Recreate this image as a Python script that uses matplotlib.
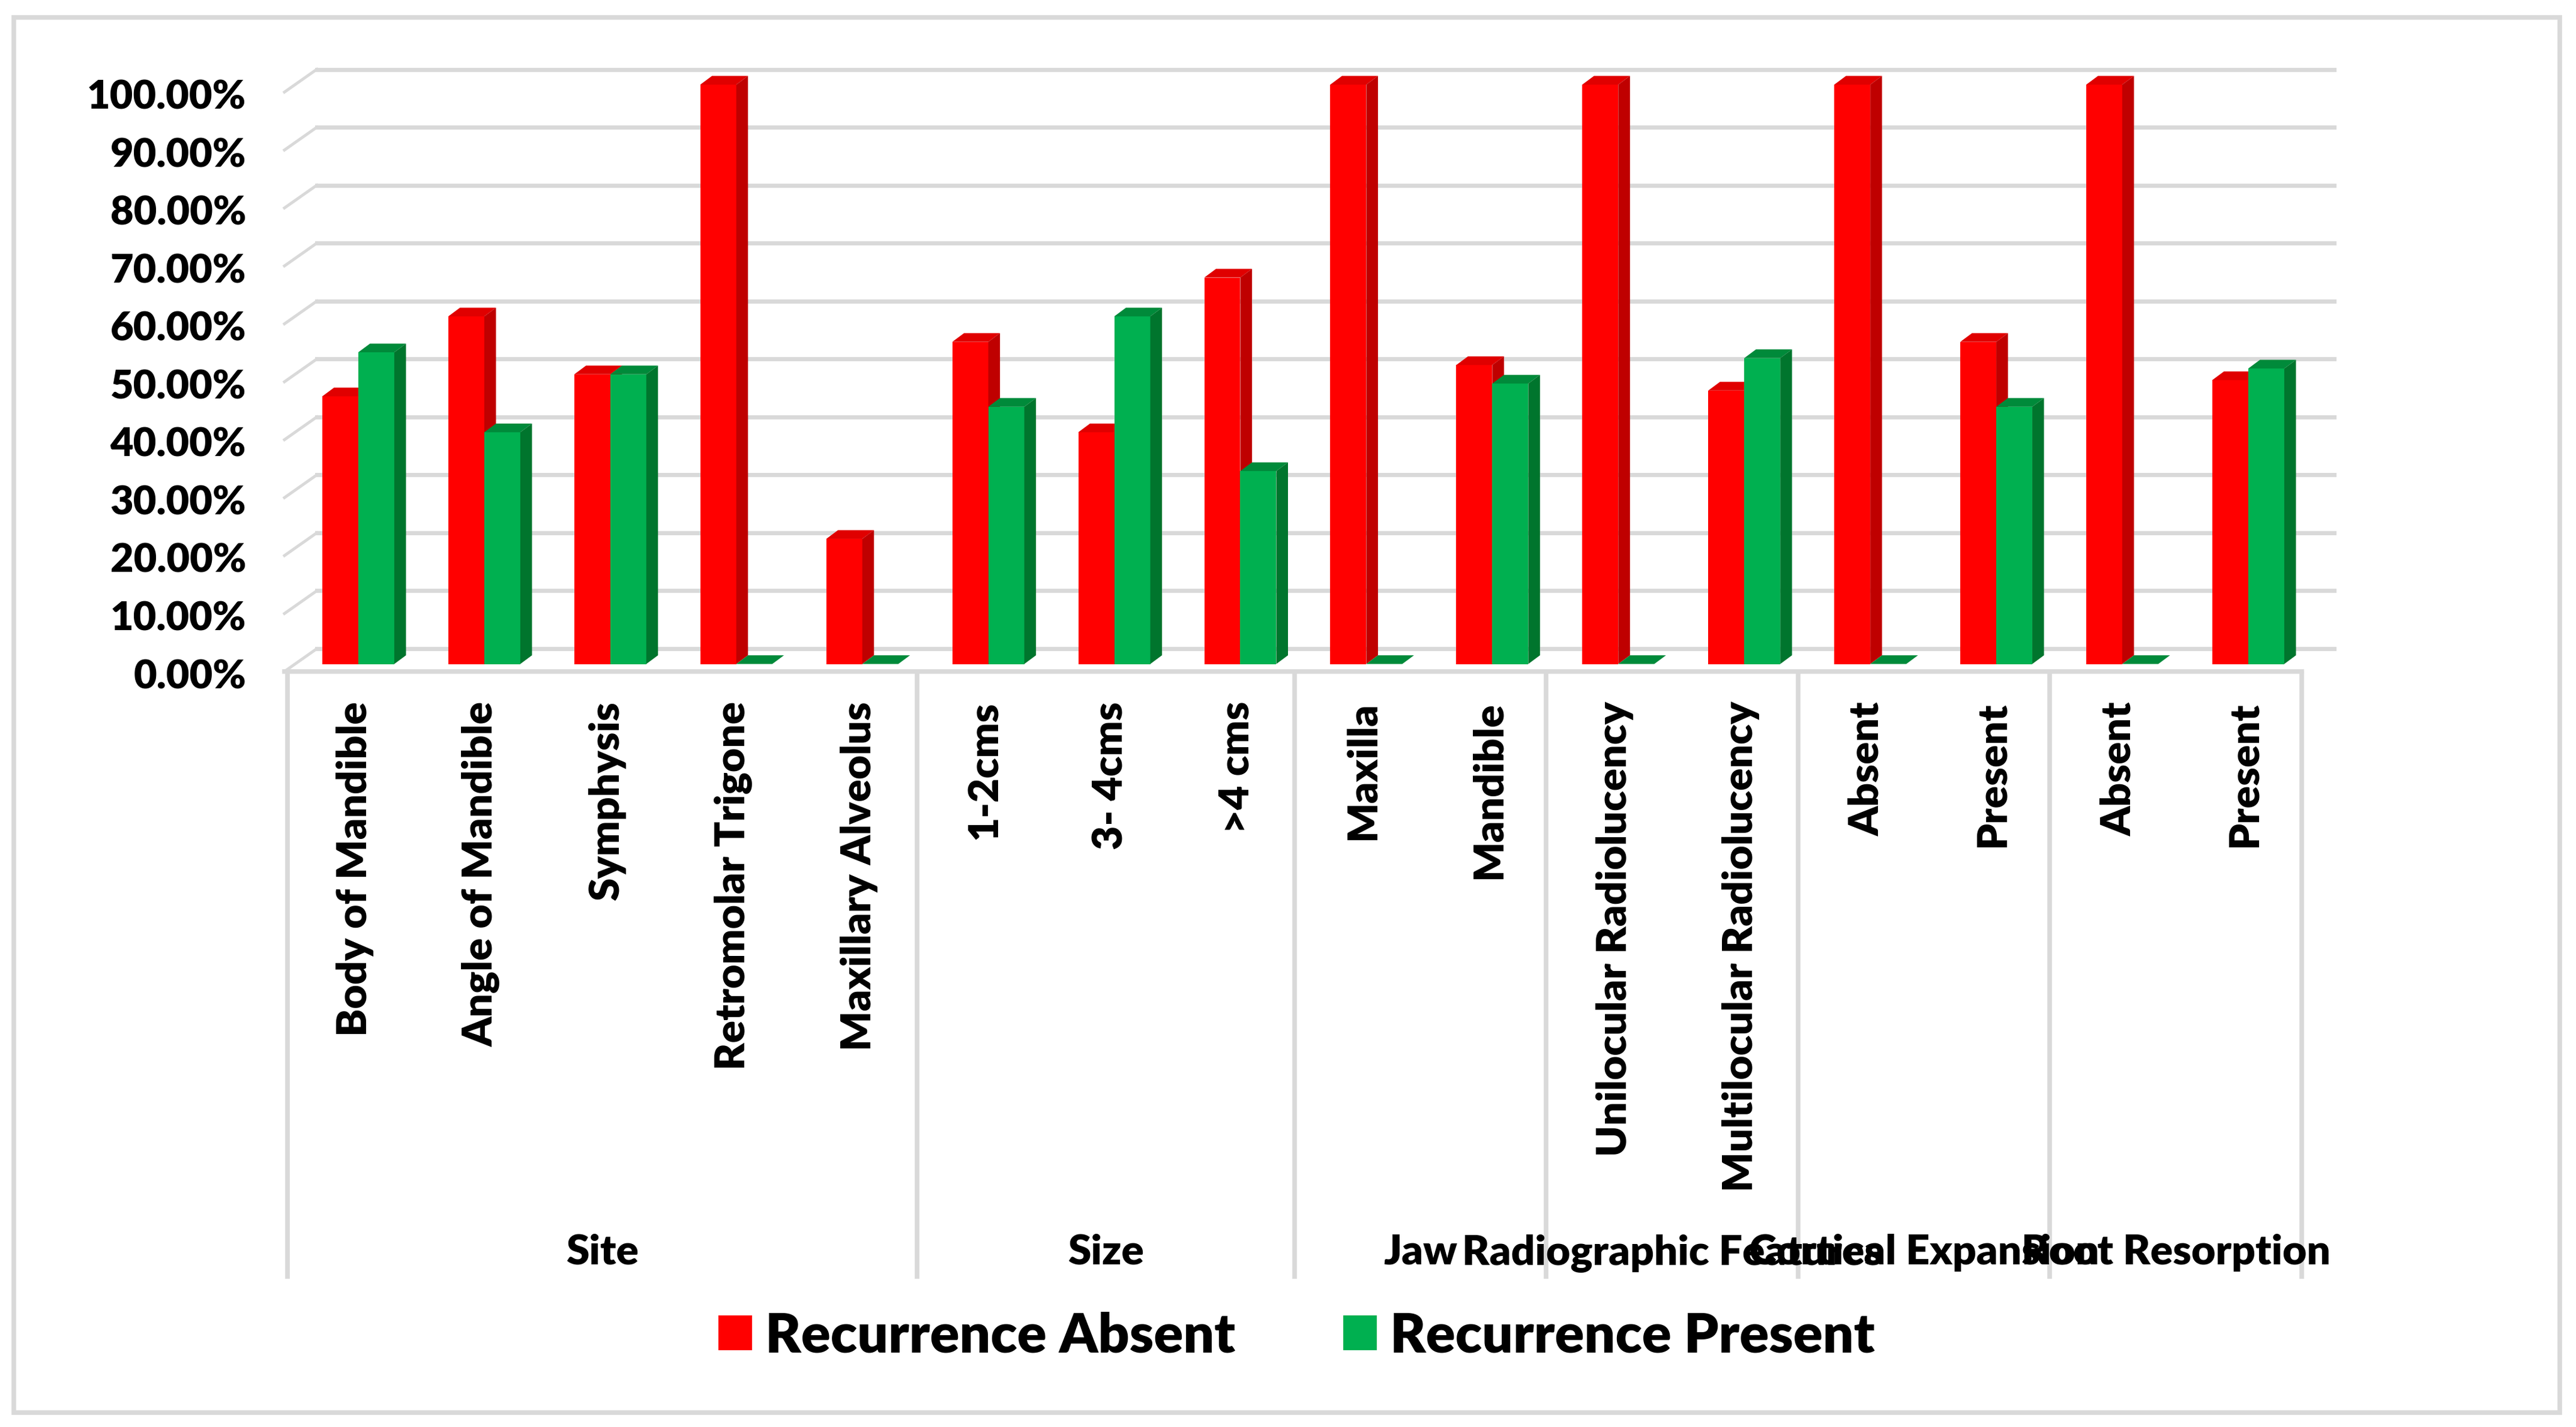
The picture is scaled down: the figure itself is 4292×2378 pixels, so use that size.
import matplotlib
matplotlib.use("Agg")
import matplotlib.pyplot as plt
from matplotlib.patches import Rectangle
from matplotlib.transforms import ScaledTranslation

plt.rcParams['font.family'] = ['Lato', 'DejaVu Sans']
plt.rcParams['font.weight'] = 800

categories = ['Body of Mandible', 'Angle of Mandible', 'Symphysis', 'Retromolar Trigone',
              'Maxillary Alveolus', '1-2cms', '3- 4cms', '>4 cms', 'Maxilla', 'Mandible',
              'Unilocular Radiolucency', 'Multilocular Radiolucency', 'Absent', 'Present',
              'Absent', 'Present']
absent = [46.2, 60.0, 50.0, 100.0, 21.6, 55.6, 40.0, 66.7, 100.0, 51.6, 100.0, 47.2, 100.0, 55.6, 100.0, 49.0]
present = [53.8, 40.0, 50.0, 0.0, 0.0, 44.4, 60.0, 33.3, 0.0, 48.4, 0.0, 52.8, 0.0, 44.4, 0.0, 51.0]
group_names = ['Site', 'Size', 'Jaw', 'Radiographic Features', 'Cortical Expansion', 'Root Resorption']
group_sizes = [5, 3, 2, 2, 2, 2]
y_ticks = [0, 10, 20, 30, 40, 50, 60, 70, 80, 90, 100]
y_labels = ['%.2f%%' % v for v in y_ticks]

W, H = 4292, 2378
GRID = '#D9D9D9'
bar_w = 0.2857
depth_x, depth_y = 0.093, 1.5  # how far a bar top is pushed back

fig = plt.figure(figsize=(W / 100, H / 100), dpi=100, facecolor='white')
ax = fig.add_axes([492.0 / W, 1 - 1106.5 / H, 3358.9 / W, 965.5 / H])
ax.set_xlim(-0.5, 15.5)
ax.set_ylim(0, 100)
ax.patch.set_visible(False)
for s in ax.spines.values():
    s.set_visible(False)

# outer chart border
fig.add_artist(Rectangle((23 / W, 1 - 2354 / H), 4242 / W, 2325 / H, transform=fig.transFigure,
                         fill=False, edgecolor=GRID, linewidth=5.5))

# back wall grid and left wall
back_l, back_r = -0.329, 15.68
front_l, front_r = -0.586, 15.424
back_dy, front_dy = 2.64, -1.29
for v in y_ticks:
    ax.plot([back_l, back_r], [v + back_dy] * 2, color=GRID, lw=5, zorder=1, clip_on=False)
    ax.plot([front_l, back_l], [v + front_dy, v + back_dy], color=GRID, lw=3.5, zorder=1, clip_on=False)
ax.plot([front_l, front_r], [front_dy, front_dy], color=GRID, lw=5.5, zorder=1, clip_on=False)

# group separators below the floor
edges = [0]
for n in group_sizes:
    edges.append(edges[-1] + n)
for e in edges:
    x = -0.562 + e * 0.99913
    ax.plot([x, x], [front_dy, -106.1], color=GRID, lw=5.5, zorder=1, clip_on=False, solid_capstyle='butt')


def draw_series(xs, vals, front, top, side, label, z):
    ax.bar(xs, vals, bar_w, color=front, linewidth=0, zorder=z, label=label, clip_on=False)
    for x, v in zip(xs, vals):
        l, r = x - bar_w / 2, x + bar_w / 2
        ax.fill([l, r, r + depth_x, l + depth_x], [v, v, v + depth_y, v + depth_y],
                color=top, linewidth=0, zorder=z, clip_on=False)
        if v > 0:
            ax.fill([r, r + depth_x, r + depth_x, r], [0, depth_y, v + depth_y, v],
                    color=side, linewidth=0, zorder=z, clip_on=False)


pos = list(range(len(categories)))
draw_series([p - bar_w / 2 for p in pos], absent, '#FF0000', '#E00000', '#BF0000', 'Recurrence Absent', 2)
draw_series([p + bar_w / 2 for p in pos], present, '#00B050', '#008A3A', '#00752D', 'Recurrence Present', 3)

# tick labels sit on the front edge of the wall, not the bar plane
ax.set_yticks(y_ticks)
ax.set_yticklabels(y_labels, fontsize=48, color='black')
ax.tick_params(axis='y', length=0, pad=59)
ax.set_xticks(pos)
ax.set_xticklabels(categories, rotation=90, fontsize=50, color='black')
ax.tick_params(axis='x', length=0, pad=45)
for lab in ax.get_yticklabels():
    lab.set_transform(lab.get_transform() + ScaledTranslation(0, -0.155, fig.dpi_scale_trans))
for lab in ax.get_xticklabels():
    lab.set_transform(lab.get_transform() + ScaledTranslation(-0.055, 0, fig.dpi_scale_trans))

for i, name in enumerate(group_names):
    mid = (edges[i] + edges[i + 1]) / 2
    x = -0.562 + mid * 0.99913
    ax.text(x, -103.6, name, ha='center', va='baseline', fontsize=50, clip_on=False)

ax.legend(loc='lower left', bbox_to_anchor=(1197 / W, 1 - 2268 / H), bbox_transform=fig.transFigure,
          ncol=2, frameon=False, fontsize=65.5, borderpad=0, borderaxespad=0,
          handlelength=0.62, handleheight=0.62, handletextpad=0.24, columnspacing=1.97)

fig.savefig('out.png', dpi=100)
